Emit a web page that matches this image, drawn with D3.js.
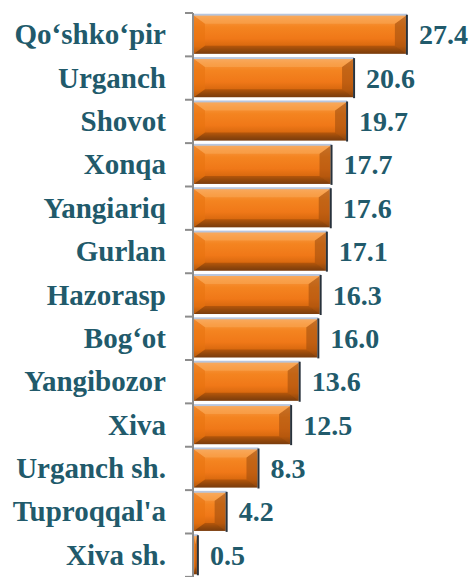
<!DOCTYPE html>
<html><head><meta charset="utf-8">
<script src="https://cdn.jsdelivr.net/npm/d3@7"></script>
</head><body style="margin:0;padding:0;background:#fff;">
<script>
const categories = ["Qo‘shko‘pir","Urganch","Shovot","Xonqa","Yangiariq","Gurlan","Hazorasp","Bog‘ot","Yangibozor","Xiva","Urganch sh.","Tuproqqal'a","Xiva sh."];
const values = [27.4,20.6,19.7,17.7,17.6,17.1,16.3,16.0,13.6,12.5,8.3,4.2,0.5];
const valueLabels = ["27.4","20.6","19.7","17.7","17.6","17.1","16.3","16.0","13.6","12.5","8.3","4.2","0.5"];

const W = 475, H = 577;
const textColor = "#215A6B";
const font = '"Liberation Serif"';

const svg = d3.select("body").append("svg").attr("width", W).attr("height", H).style("display","block");

const defs = svg.append("defs");
const g1 = defs.append("linearGradient").attr("id","barGrad").attr("x1",0).attr("y1",0).attr("x2",0).attr("y2",1);
[[0,"#F6A45A"],[0.12,"#F7943A"],[0.3,"#F48420"],[0.6,"#F07818"],[0.8,"#D8680E"],[0.9,"#A4520E"],[1,"#7A3E10"]]
  .forEach(([o,c])=>g1.append("stop").attr("offset",o).attr("stop-color",c));

const x = d3.scaleLinear().domain([0, 30]).range([193, 193 + 30*7.77]);
const y = d3.scaleBand().domain(categories).range([13, 576]).paddingInner(0.1).paddingOuter(0.04);

svg.append("line").attr("x1",193).attr("x2",193).attr("y1",13).attr("y2",H).attr("stroke","#8C8C8C").attr("stroke-width",2);
const step = y.step();
const boundaries = d3.range(categories.length + 1).map(i => 13 + i*step);
svg.selectAll("line.tick").data(boundaries).join("line").attr("class","tick")
  .attr("x1",185).attr("x2",193).attr("y1",d=>d).attr("y2",d=>d).attr("stroke","#8C8C8C").attr("stroke-width",2);

const bars = svg.selectAll("g.bar").data(categories).join("g").attr("class","bar");
bars.each(function(c,i){
  const gsel = d3.select(this);
  const x0 = x(0)+1, x1 = x(values[i]), y0 = y(c), h = y.bandwidth(), y1 = y0 + h;
  const w = Math.max(x1 - x0, 1);
  const b = Math.min(11, w/2), bv = 8;
  gsel.append("rect").attr("x",x0).attr("y",y0-1).attr("width",w+1).attr("height",3).attr("fill","#B8C6DE");
  gsel.append("rect").attr("x",x0).attr("y",y0+1).attr("width",w).attr("height",h-1).attr("fill","url(#barGrad)");
  gsel.append("polygon").attr("points",[[x0,y0+1],[x0+b,y0+1+bv],[x0+b,y1-bv],[x0,y1]].join(" ")).attr("fill","#E8720E").attr("opacity",0.55);
  gsel.append("polygon").attr("points",[[x1,y0+1],[x1-b,y0+1+bv],[x1-b,y1-bv],[x1,y1]].join(" ")).attr("fill","#9A4A0C").attr("opacity",0.55);
  gsel.append("polygon").attr("points",[[x0,y0+1],[x1,y0+1],[x1-b,y0+1+bv],[x0+b,y0+1+bv]].join(" ")).attr("fill","#FBB060").attr("opacity",0.45);
  gsel.append("polygon").attr("points",[[x0,y1],[x1,y1],[x1-b,y1-bv],[x0+b,y1-bv]].join(" ")).attr("fill","#7A3A08").attr("opacity",0.4);
  gsel.append("rect").attr("x",x1).attr("y",y0).attr("width",2).attr("height",h+1).attr("fill","#28323C");
});

svg.selectAll("text.cat").data(categories).join("text").attr("class","cat")
  .attr("x",166).attr("y",d=>y(d)+y.bandwidth()/2+10)
  .attr("text-anchor","end").style("font-family",font).attr("font-weight","bold").attr("font-size",29)
  .attr("fill",textColor).text(d=>d);

svg.selectAll("text.val").data(categories).join("text").attr("class","val")
  .attr("x",(d,i)=>x(values[i])+13).attr("y",d=>y(d)+y.bandwidth()/2+10)
  .style("font-family",font).attr("font-weight","bold").attr("font-size",28)
  .attr("fill",textColor).text((d,i)=>valueLabels[i]);
</script>
</body></html>
